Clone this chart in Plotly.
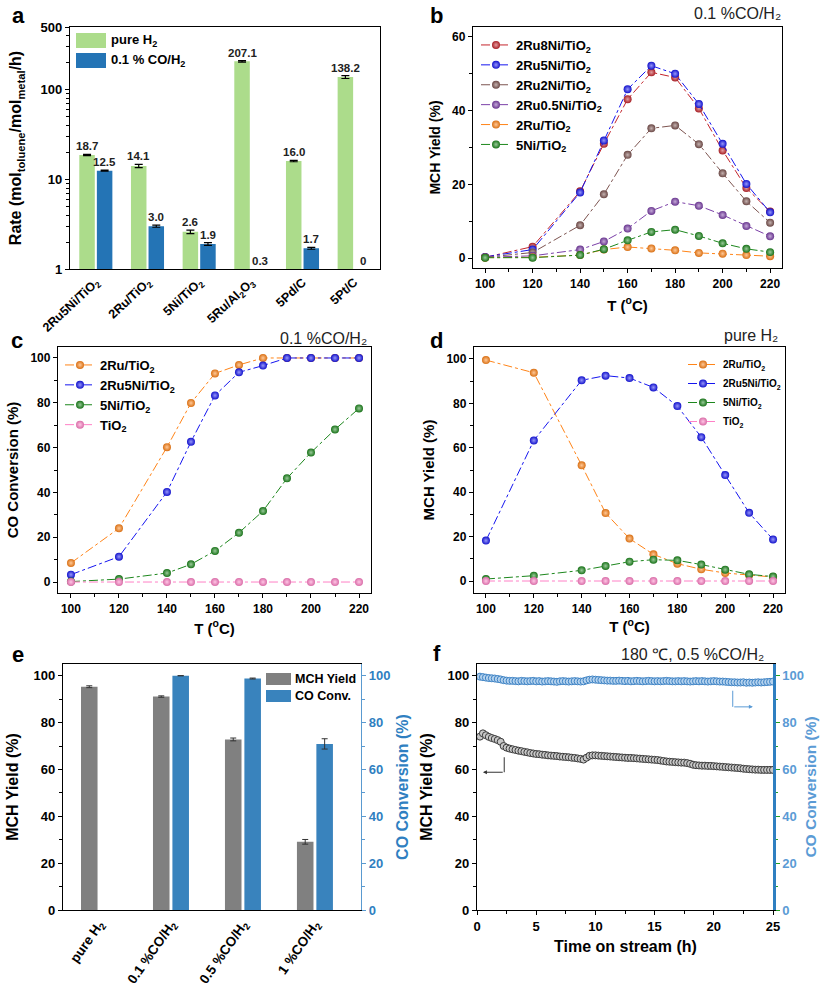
import math
import plotly.graph_objects as go

FONT = "Liberation Sans, Arial, sans-serif"
W, H = 831, 1001

# ---------------- data ----------------
# (a) rates
catalysts_a = ["2Ru5Ni/TiO<sub>2</sub>", "2Ru/TiO<sub>2</sub>", "5Ni/TiO<sub>2</sub>",
               "5Ru/Al<sub>2</sub>O<sub>3</sub>", "5Pd/C", "5Pt/C"]
rate_pure_h2 = [18.7, 14.1, 2.6, 207.1, 16.0, 138.2]
rate_pure_h2_err = [0.3, 0.6, 0.12, 4.0, 0.3, 5.0]
rate_co = [12.5, 3.0, 1.9, 0.3, 1.7, 0.0]
rate_co_err = [0.2, 0.08, 0.07, 0.0, 0.04, 0.0]

# (b) MCH yield under 0.1 %CO/H2
temps = [100, 120, 140, 150, 160, 170, 180, 190, 200, 210, 220]
b_2ru8ni = [0.2, 3.1, 18.1, 31.0, 43.1, 50.4, 49.0, 40.6, 29.2, 19.0, 12.6]
b_2ru5ni = [0.3, 2.3, 17.8, 31.9, 45.8, 52.2, 50.0, 41.8, 31.0, 20.1, 12.4]
b_2ru2ni = [0.2, 1.5, 8.9, 17.3, 28.0, 35.2, 36.0, 30.9, 23.0, 15.4, 9.6]
b_2ru05ni = [0.2, 0.6, 2.3, 4.5, 8.0, 12.8, 15.3, 14.2, 11.7, 8.7, 5.9]
b_2ru = [0.1, 0.2, 0.8, 2.3, 3.0, 2.6, 2.1, 1.4, 1.2, 0.8, 0.5]
b_5ni = [0.1, 0.1, 0.8, 2.4, 4.8, 7.1, 7.7, 6.0, 4.0, 2.5, 1.6]

# (c) CO conversion under 0.1 %CO/H2
c_2ru = [8.5, 24.0, 60.2, 79.9, 93.1, 96.9, 100.0, 100.0, 100.0, 100.0, 100.0]
c_2ru5ni = [3.3, 11.3, 40.2, 62.6, 83.3, 93.6, 96.6, 100.0, 100.0, 100.0, 100.0]
c_5ni = [0.2, 1.3, 4.0, 7.9, 13.9, 22.0, 31.7, 46.3, 57.8, 68.1, 77.5]
c_tio2 = [0.0, 0.0, 0.0, 0.0, 0.0, 0.0, 0.0, 0.0, 0.0, 0.0, 0.0]

# (d) MCH yield under pure H2
d_2ru = [99.5, 93.8, 52.1, 30.6, 19.1, 12.0, 7.8, 5.3, 3.6, 2.6, 1.8]
d_2ru5ni = [18.2, 63.3, 90.4, 92.5, 91.4, 87.2, 78.8, 64.8, 47.7, 30.7, 18.7]
d_5ni = [0.9, 2.4, 4.8, 6.8, 8.7, 9.6, 9.3, 7.4, 5.1, 3.0, 2.0]
d_tio2 = [0.0, 0.0, 0.0, 0.0, 0.0, 0.0, 0.0, 0.0, 0.0, 0.0, 0.0]

# (e) effect of CO concentration
conditions_e = ["pure H<sub>2</sub>", "0.1 %CO/H<sub>2</sub>", "0.5 %CO/H<sub>2</sub>", "1 %CO/H<sub>2</sub>"]
e_mch_yield = [95.3, 91.1, 72.8, 29.1]
e_mch_yield_err = [0.4, 0.3, 0.6, 1.0]
e_co_conv = [None, 100.0, 98.8, 70.9]
e_co_conv_err = [0.0, 0.0, 0.2, 2.2]

# (f) time on stream
time_h = [0.25, 0.5, 0.75, 1.0, 1.25, 1.5, 1.75, 2.0, 2.25, 2.5, 2.75, 3.0, 3.25, 3.5, 3.75, 4.0,
          4.25, 4.5, 4.75, 5.0, 5.25, 5.5, 5.75, 6.0, 6.25, 6.5, 6.75, 7.0, 7.25, 7.5, 7.75, 8.0,
          8.25, 8.5, 8.75, 9.0, 9.25, 9.5, 9.75, 10.0, 10.25, 10.5, 10.75, 11.0, 11.25, 11.5, 11.75, 12.0,
          12.25, 12.5, 12.75, 13.0, 13.25, 13.5, 13.75, 14.0, 14.25, 14.5, 14.75, 15.0, 15.25, 15.5, 15.75, 16.0,
          16.25, 16.5, 16.75, 17.0, 17.25, 17.5, 17.75, 18.0, 18.25, 18.5, 18.75, 19.0, 19.25, 19.5, 19.75, 20.0,
          20.25, 20.5, 20.75, 21.0, 21.25, 21.5, 21.75, 22.0, 22.25, 22.5, 22.75, 23.0, 23.25, 23.5, 23.75, 24.0,
          24.25, 24.5, 24.75, 25.0]
f_mch_yield = [74.0, 75.4, 74.6, 73.9, 73.4, 73.0, 72.5, 71.8, 70.0, 69.3, 68.9, 68.6, 68.3, 68.0, 67.8, 67.5,
               67.3, 67.0, 66.8, 66.6, 66.5, 66.3, 66.2, 66.0, 65.9, 65.8, 65.7, 65.5, 65.4, 65.3, 65.2, 65.0,
               64.9, 64.7, 64.5, 64.2, 65.0, 65.8, 66.0, 66.0, 65.9, 65.8, 65.7, 65.6, 65.5, 65.4, 65.3, 65.2,
               65.1, 65.0, 64.9, 64.9, 64.8, 64.7, 64.6, 64.5, 64.4, 64.3, 64.2, 64.1, 64.0, 63.8, 63.6, 63.4,
               63.3, 63.2, 63.1, 63.0, 62.9, 62.9, 62.7, 62.4, 62.0, 61.8, 61.7, 61.6, 61.6, 61.5, 61.5, 61.4,
               61.3, 61.2, 61.1, 61.0, 60.9, 60.8, 60.7, 60.6, 60.5, 60.3, 60.2, 60.1, 60.0, 59.9, 59.9, 59.8,
               59.8, 59.8, 59.8, 59.8]
f_co_conv = [99.6, 99.4, 99.2, 99.0, 98.9, 98.8, 98.6, 98.4, 98.1, 97.9, 97.8, 97.8, 97.7, 97.6, 97.8, 97.7,
             97.6, 97.7, 97.8, 97.6, 97.7, 97.5, 97.6, 97.7, 97.6, 97.5, 97.4, 97.6, 97.7, 97.6, 97.5, 97.6,
             97.7, 97.6, 97.5, 97.6, 98.0, 98.3, 98.4, 98.3, 98.2, 98.1, 98.0, 97.9, 97.9, 97.8, 97.8, 97.9,
             97.8, 97.7, 97.8, 97.6, 97.7, 97.8, 97.7, 97.6, 97.7, 97.8, 97.7, 97.6, 97.7, 97.6, 97.7, 97.8,
             97.7, 97.6, 97.6, 97.7, 97.6, 97.7, 97.6, 97.5, 97.6, 97.7, 97.6, 97.7, 97.6, 97.5, 97.6, 97.7,
             97.6, 97.5, 97.5, 97.4, 97.3, 97.2, 97.2, 97.1, 97.1, 97.2, 97.0, 97.1, 97.0, 97.1, 97.2, 97.1,
             97.2, 97.3, 97.4, 97.5]

# ---------------- styles ----------------
GREEN_A = "#acdc8b"
BLUE_A = "#2474b5"
GRAY_E = "#808080"
BLUE_E = "#3983bd"
BLUE_AX = "#2f7fc1"
BLUE_TXT = "#5b9bd5"

C_RED = "#c4252c"
C_BLUE = "#1515f0"
C_BROWN = "#7d5450"
C_PURPLE = "#7b40a8"
C_ORANGE = "#ff8418"
C_GREEN = "#1d871d"
C_PINK = "#ff80c6"


def fx(p):
    return p / W


def fy(p):
    return 1 - p / H


def mix(hexc, t, target=(255, 255, 255)):
    h = hexc.lstrip("#")
    r, g, b = int(h[0:2], 16), int(h[2:4], 16), int(h[4:6], 16)
    r = round(r + (target[0] - r) * t)
    g = round(g + (target[1] - g) * t)
    b = round(b + (target[2] - b) * t)
    return f"rgb({r},{g},{b})"


def tfont(size=12, color="black", bold=True):
    return dict(family=FONT, size=size, color=color, weight="bold" if bold else "normal")


def axis(domain, anchor, **kw):
    d = dict(domain=domain, anchor=anchor, showline=True, linecolor="black", linewidth=1.3,
             mirror=True, ticks="outside", ticklen=4, tickwidth=1.2, tickcolor="black",
             showgrid=False, zeroline=False, tickfont=tfont(12), automargin=False)
    d.update(kw)
    return d


def line_trace(x, y, name, color, xa, ya, legend):
    return go.Scatter(
        x=x, y=y, name=name, mode="lines+markers",
        line=dict(color=color, width=1, dash="dashdot"),
        marker=dict(size=8, color=mix(color, 0.15, (0, 0, 0)),
                    gradient=dict(type="radial", color=mix(color, 0.55)),
                    line=dict(width=0)),
        xaxis=xa, yaxis=ya, legend=legend)


fig = go.Figure()

# ---------------- panel a ----------------
fig.add_trace(go.Bar(x=catalysts_a, y=rate_pure_h2, name="pure H<sub>2</sub>",
                     error_y=dict(type="data", array=rate_pure_h2_err, color="black", thickness=1.2, width=4),
                     marker=dict(color=GREEN_A, line=dict(width=0)), width=0.30, offset=-0.32,
                     xaxis="x", yaxis="y", showlegend=False))
fig.add_trace(go.Bar(x=catalysts_a, y=rate_co, name="0.1 % CO/H<sub>2</sub>",
                     error_y=dict(type="data", array=rate_co_err, color="black", thickness=1.2, width=4),
                     marker=dict(color=BLUE_A, line=dict(width=0)), width=0.30, offset=0.02,
                     xaxis="x", yaxis="y", showlegend=False))

annotations = []
CAT_PX_A = (380 - 70) / 6.0
for i, cat in enumerate(catalysts_a):
    for vals, errs, shift in ((rate_pure_h2, rate_pure_h2_err, -0.17), (rate_co, rate_co_err, 0.17)):
        v = vals[i]
        top = max(v + errs[i], 1.0)
        label = "0" if v == 0 else f"{v:.1f}"
        annotations.append(dict(x=cat, y=math.log10(top), xref="x", yref="y", text=label,
                                showarrow=False, xshift=shift * CAT_PX_A, yanchor="bottom", yshift=0,
                                font=tfont(11.5, "#222222")))

# ---------------- panel b ----------------
for y, name, col in ((b_2ru8ni, "2Ru8Ni/TiO<sub>2</sub>", C_RED),
                     (b_2ru5ni, "2Ru5Ni/TiO<sub>2</sub>", C_BLUE),
                     (b_2ru2ni, "2Ru2Ni/TiO<sub>2</sub>", C_BROWN),
                     (b_2ru05ni, "2Ru0.5Ni/TiO<sub>2</sub>", C_PURPLE),
                     (b_2ru, "2Ru/TiO<sub>2</sub>", C_ORANGE),
                     (b_5ni, "5Ni/TiO<sub>2</sub>", C_GREEN)):
    fig.add_trace(line_trace(temps, y, name, col, "x2", "y2", "legend"))

# ---------------- panel c ----------------
for y, name, col in ((c_2ru, "2Ru/TiO<sub>2</sub>", C_ORANGE),
                     (c_2ru5ni, "2Ru5Ni/TiO<sub>2</sub>", C_BLUE),
                     (c_5ni, "5Ni/TiO<sub>2</sub>", C_GREEN),
                     (c_tio2, "TiO<sub>2</sub>", C_PINK)):
    fig.add_trace(line_trace(temps, y, name, col, "x3", "y3", "legend2"))

# ---------------- panel d ----------------
for y, name, col in ((d_2ru, "2Ru/TiO<sub>2</sub>", C_ORANGE),
                     (d_2ru5ni, "2Ru5Ni/TiO<sub>2</sub>", C_BLUE),
                     (d_5ni, "5Ni/TiO<sub>2</sub>", C_GREEN),
                     (d_tio2, "TiO<sub>2</sub>", C_PINK)):
    fig.add_trace(line_trace(temps, y, name, col, "x4", "y4", "legend3"))

# ---------------- panel e ----------------
fig.add_trace(go.Bar(x=conditions_e, y=e_mch_yield, name="MCH Yield",
                     error_y=dict(type="data", array=e_mch_yield_err, color="#333333", thickness=1, width=3),
                     marker=dict(color=GRAY_E, line=dict(width=0)), width=0.23, offset=-0.25,
                     xaxis="x5", yaxis="y5", showlegend=False))
fig.add_trace(go.Bar(x=conditions_e, y=e_co_conv, name="CO Conv.",
                     error_y=dict(type="data", array=e_co_conv_err, color="#333333", thickness=1, width=3),
                     marker=dict(color=BLUE_E, line=dict(width=0)), width=0.23, offset=0.02,
                     xaxis="x5", yaxis="y6", showlegend=False))

# ---------------- panel f ----------------
fig.add_trace(go.Scatter(x=time_h, y=f_co_conv, name="CO Conversion", mode="markers",
                         marker=dict(size=7, color="#b4d2ee", line=dict(color="#3d82c4", width=1)),
                         xaxis="x6", yaxis="y8", showlegend=False))
fig.add_trace(go.Scatter(x=time_h, y=f_mch_yield, name="MCH Yield", mode="markers",
                         marker=dict(size=7, color="#c8c8c8", line=dict(color="#3a3a3a", width=1)),
                         xaxis="x6", yaxis="y7", showlegend=False))

# ---------------- axes ----------------
ya = [fy(269), fy(27)]
xb = [fx(473), fx(782)]
yb = [fy(268), fy(27)]
xc = [fx(58), fx(371)]
yc = [fy(593), fy(347)]
xd = [fx(474), fx(785)]
yd = [fy(593), fy(347)]
xe = [fx(63), fx(361)]
ye = [fy(910), fy(664)]
xf = [fx(477), fx(773)]
yf = [fy(910), fy(664)]

title_font = tfont(15)

layout = dict(
    width=W, height=H, margin=dict(l=0, r=0, t=0, b=0),
    paper_bgcolor="white", plot_bgcolor="white",
    font=dict(family=FONT, color="black"),
    barmode="overlay",
    xaxis=axis([fx(70), fx(380)], "y", type="category", range=[-0.5, 5.5], ticks="",
               tickangle=-43, tickfont=tfont(12.5)),
    yaxis=axis(ya, "x", type="log", range=[0, math.log10(500)], tickvals=[1, 10, 100, 500],
               ticktext=["1", "10", "100", "500"], tickfont=tfont(13),
               minor=dict(ticks="outside", ticklen=2.5, tickcolor="black",
                          tickvals=[2, 3, 4, 5, 6, 7, 8, 9, 20, 30, 40, 50, 60, 70, 80, 90, 200, 300, 400]),
               title=dict(text="Rate (mol<sub>toluene</sub>/mol<sub>metal</sub>/h)", font=tfont(16), standoff=14)),
    xaxis2=axis(xb, "y2", range=[94.9, 225], tick0=100, dtick=20,
                minor=dict(ticks="outside", ticklen=2.5, dtick=10, tick0=100, tickcolor="black"),
                title=dict(text="T (<sup>o</sup>C)", font=title_font, standoff=10)),
    yaxis2=axis(yb, "x2", range=[-2.7, 62.7], tick0=0, dtick=20,
                minor=dict(ticks="outside", ticklen=2.5, dtick=10, tick0=0, tickcolor="black"),
                title=dict(text="MCH Yield (%)", font=tfont(14), standoff=8)),
    xaxis3=axis(xc, "y3", range=[94.6, 225], tick0=100, dtick=20,
                minor=dict(ticks="outside", ticklen=2.5, dtick=10, tick0=100, tickcolor="black"),
                title=dict(text="T (<sup>o</sup>C)", font=title_font, standoff=8)),
    yaxis3=axis(yc, "x3", range=[-4.9, 104.9], tick0=0, dtick=20,
                minor=dict(ticks="outside", ticklen=2.5, dtick=10, tick0=0, tickcolor="black"),
                title=dict(text="CO Conversion (%)", font=title_font, standoff=8)),
    xaxis4=axis(xd, "y4", range=[95.0, 225], tick0=100, dtick=20,
                minor=dict(ticks="outside", ticklen=2.5, dtick=10, tick0=100, tickcolor="black"),
                title=dict(text="T (<sup>o</sup>C)", font=title_font, standoff=3)),
    yaxis4=axis(yd, "x4", range=[-5.4, 105.4], tick0=0, dtick=20,
                minor=dict(ticks="outside", ticklen=2.5, dtick=10, tick0=0, tickcolor="black"),
                title=dict(text="MCH Yield (%)", font=title_font, standoff=8)),
    xaxis5=axis(xe, "y5", type="category", range=[-0.5, 3.64], ticks="", tickangle=-55,
                tickfont=tfont(13.5)),
    yaxis5=axis(ye, "x5", range=[0, 105], tick0=0, dtick=20, mirror=False, tickfont=tfont(13),
                minor=dict(ticks="outside", ticklen=2.5, dtick=10, tick0=0, tickcolor="black"),
                title=dict(text="MCH Yield (%)", font=tfont(16), standoff=10)),
    yaxis6=axis(ye, "x5", overlaying="y5", side="right", range=[0, 105], tick0=0, dtick=20,
                mirror=False, linecolor="#5a9ad0", tickcolor="#5a9ad0", tickfont=tfont(13, BLUE_AX),
                minor=dict(ticks="outside", ticklen=2.5, dtick=10, tick0=0, tickcolor="#5a9ad0"),
                title=dict(text="CO Conversion (%)", font=tfont(16, BLUE_AX), standoff=7)),
    xaxis6=axis(xf, "y7", range=[0, 25], tick0=0, dtick=5, tickfont=tfont(13),
                minor=dict(ticks="outside", ticklen=2.5, dtick=2.5, tick0=0, tickcolor="black")),
    yaxis7=axis(yf, "x6", range=[0, 105], tick0=0, dtick=20, mirror=False, tickfont=tfont(13),
                minor=dict(ticks="outside", ticklen=2.5, dtick=10, tick0=0, tickcolor="black"),
                title=dict(text="MCH Yield (%)", font=tfont(16), standoff=10)),
    yaxis8=axis(yf, "x6", overlaying="y7", side="right", range=[0, 105], tick0=0, dtick=20,
                mirror=False, linecolor=BLUE_AX, linewidth=2.5, tickcolor="#22a022",
                tickfont=tfont(13, BLUE_TXT),
                minor=dict(ticks="outside", ticklen=2.5, dtick=10, tick0=0, tickcolor="#22a022"),
                title=dict(text="CO Conversion (%)", font=tfont(15.5, BLUE_TXT), standoff=3)),
    legend=dict(x=fx(476), y=fy(30), xanchor="left", yanchor="top", bgcolor="rgba(0,0,0,0)",
                font=tfont(13), tracegroupgap=0, itemwidth=30),
    legend2=dict(x=fx(60), y=fy(350), xanchor="left", yanchor="top", bgcolor="rgba(0,0,0,0)",
                 font=tfont(13), tracegroupgap=0, itemwidth=30),
    legend3=dict(x=fx(683), y=fy(350), xanchor="left", yanchor="top", bgcolor="rgba(0,0,0,0)",
                 font=tfont(10), tracegroupgap=0, itemwidth=30),
)

# x-axis title of panel f
annotations.append(dict(x=(xf[0] + xf[1]) / 2, y=fy(946), xref="paper", yref="paper",
                        text="Time on stream (h)", showarrow=False, xanchor="center", yanchor="middle",
                        font=tfont(16)))

# panel letters
for letter, px, py in (("a", 18, 15), ("b", 437, 15), ("c", 17, 340), ("d", 437, 340),
                       ("e", 18, 654), ("f", 437, 653)):
    annotations.append(dict(x=fx(px), y=fy(py), xref="paper", yref="paper", text=letter,
                            showarrow=False, xanchor="center", yanchor="middle", font=tfont(22)))

# panel subtitles
for txt, px, py in (("0.1 %CO/H₂", 737, 14), ("0.1 %CO/H₂", 323, 338),
                    ("pure H₂", 751, 335), ("180 ℃, 0.5 %CO/H₂", 692, 654)):
    annotations.append(dict(x=fx(px), y=fy(py), xref="paper", yref="paper", text=txt,
                            showarrow=False, xanchor="center", yanchor="middle",
                            font=tfont(16, "#222222", bold=False)))

shapes = []
# manual legend for panel a
for (y0, y1), col, txt in (((33, 48), GREEN_A, "pure H<sub>2</sub>"), ((53, 68), BLUE_A, "0.1 % CO/H<sub>2</sub>")):
    shapes.append(dict(type="rect", xref="paper", yref="paper", x0=fx(76), x1=fx(106),
                       y0=fy(y1), y1=fy(y0), fillcolor=col, line=dict(width=0)))
    annotations.append(dict(x=fx(109), y=fy((y0 + y1) / 2), xref="paper", yref="paper", text=txt,
                            showarrow=False, xanchor="left", yanchor="middle", font=tfont(13)))
# manual legend for panel e
for (y0, y1), col, txt in (((673, 685), GRAY_E, "MCH Yield"), ((690, 702), BLUE_E, "CO Conv.")):
    shapes.append(dict(type="rect", xref="paper", yref="paper", x0=fx(266), x1=fx(291),
                       y0=fy(y1), y1=fy(y0), fillcolor=col, line=dict(width=0)))
    annotations.append(dict(x=fx(293), y=fy((y0 + y1) / 2), xref="paper", yref="paper", text=txt,
                            showarrow=False, xanchor="left", yanchor="middle", font=tfont(12.5)))

# axis pointer arrows in panel f
shapes.append(dict(type="line", xref="x6", yref="y7", x0=2.3, x1=2.3, y0=65.2, y1=58.8,
                   line=dict(color="#333333", width=1)))
annotations.append(dict(x=0.5, y=58.8, ax=2.3, ay=58.8, xref="x6", yref="y7", axref="x6", ayref="y7",
                        text="", showarrow=True, arrowhead=2, arrowsize=0.8, arrowwidth=1,
                        arrowcolor="#333333"))
shapes.append(dict(type="line", xref="x6", yref="y7", x0=21.6, x1=21.6, y0=93.6, y1=86.7,
                   line=dict(color=BLUE_TXT, width=1)))
annotations.append(dict(x=23.3, y=86.7, ax=21.6, ay=86.7, xref="x6", yref="y7", axref="x6", ayref="y7",
                        text="", showarrow=True, arrowhead=2, arrowsize=0.8, arrowwidth=1,
                        arrowcolor=BLUE_TXT))

layout["annotations"] = annotations
layout["shapes"] = shapes
fig.update_layout(**layout)

# remove the browser's default 8px page margin so the figure fills the window exactly
fig.write_html("out.html", config={"displayModeBar": False},
               post_script="document.body.style.margin='0';document.body.style.overflow='hidden';")
